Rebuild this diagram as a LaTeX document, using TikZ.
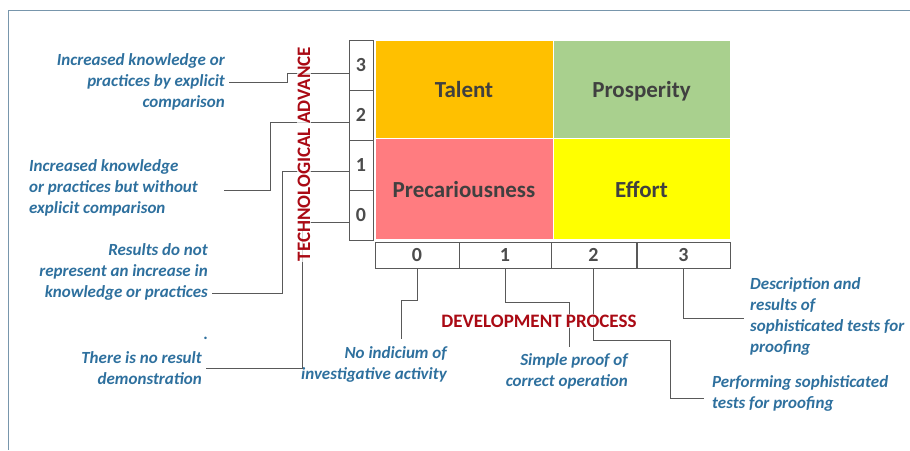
\documentclass[tikz,border=0pt]{standalone}
\usepackage{fontspec}
\setmainfont{Carlito}
\definecolor{txtblue}{RGB}{46,112,158}
\definecolor{axred}{RGB}{170,10,20}
\definecolor{talent}{RGB}{255,192,0}
\definecolor{prosp}{RGB}{169,208,142}
\definecolor{preca}{RGB}{255,124,128}
\definecolor{effort}{RGB}{255,255,0}
\definecolor{framec}{RGB}{120,150,172}
\tikzset{
  quad/.style ={rectangle, draw=white, line width=0.6pt, text=black!75, text height=17pt, text depth=0pt, font=\fontsize{23}{26}\selectfont\bfseries},
  sc/.style   ={rectangle, draw=black!65, fill=white, line width=0.8pt, text=black!70, inner sep=0pt, font=\fontsize{20}{22}\selectfont\bfseries},
  ttl/.style  ={text=axred, fill=white, fill opacity=0.75, text opacity=1, inner sep=1pt, font=\fontsize{19}{22}\selectfont\bfseries},
  lbl/.style  ={text=txtblue, inner sep=4pt, font=\fontsize{17}{21}\selectfont\bfseries\itshape},
  ld/.style   ={draw=black!65, line width=0.7pt},
  fr/.style   ={draw=framec, line width=1pt},
}

\begin{document}
\begin{tikzpicture}[x=1pt, y=-1pt]
\useasboundingbox (0,0) rectangle (910,450);
\draw[fr] (910,10) -- (8,10) -- (8,450);
%% ---------- the four quadrants ----------
\node[quad, fill=talent, minimum width=178pt, minimum height=98pt]  (tal) at (464,89)      {Talent};
\node[quad, fill=prosp,  minimum width=177pt, minimum height=98pt]  (pro) at (641.5,89)    {Prosperity};
\node[quad, fill=preca,  minimum width=178pt, minimum height=101pt] (pre) at (464,188.5)   {Precariousness};
\node[quad, fill=effort, minimum width=177pt, minimum height=101pt] (eff) at (641.5,188.5) {Effort};
%% ---------- scales ----------
\foreach \n in {0,...,3}
  \node[sc, minimum width=24pt, minimum height=50pt] (v\n) at (361,215-50*\n) {\n};
\node[sc, minimum width=84pt, minimum height=26pt] (h0) at (417,255)   {0};
\node[sc, minimum width=92pt, minimum height=26pt] (h1) at (505,255)   {1};
\node[sc, minimum width=85pt, minimum height=26pt] (h2) at (593.5,255) {2};
\node[sc, minimum width=93pt, minimum height=26pt] (h3) at (683.5,255) {3};
%% ---------- level descriptions, technological advance ----------
\node[lbl, anchor=east, align=right] (l3) at (229,82) {Increased knowledge or\\practices by explicit\\comparison};
\node[lbl, anchor=west, align=left]  (l2) at (25,188) {Increased knowledge\\or practices but without\\explicit comparison};
\node[lbl, anchor=east, align=right] (l1) at (212,272) {Results do not\\represent an increase in\\knowledge or practices};
\node[lbl, anchor=base] (dot) at (206,339) {.};
\node[lbl, anchor=east, align=right] (l0) at (206,368.5) {There is no result\\demonstration};
%% ---------- level descriptions, development process ----------
\node[lbl, anchor=east, align=right] (b0) at (451,364.5) {No indicium of\\investigative activity};
\node[lbl, anchor=east, align=right] (b1) at (632,371)   {Simple proof of\\correct operation};
\node[lbl, anchor=west, align=left]  (b2) at (708,393)   {Performing sophisticated\\tests for proofing};
\node[lbl, anchor=west, align=left]  (b3) at (746,316.5) {Description and\\results of\\sophisticated tests for\\proofing};
% free ends of the lower leaders
\coordinate (e0) at (401,339);
\coordinate (e1) at (569,347);
\coordinate (e2) at (704,398);
\coordinate (e3) at (744,318);
%% ---------- leaders ----------
\draw[ld] (l3.east) -| (287,73) -- ([yshift=-8pt]v3.west);
\draw[ld] ([xshift=22pt,yshift=-2pt]l2.east) -| (270,122) -- ([yshift=-7pt]v2.west);
\draw[ld] ([yshift=-21pt]l1.east) -| (282,171) -- ([yshift=-6pt]v1.west);
\draw[ld] (l0.east) -| (302,222) -- ([yshift=-7pt]v0.west);
\draw[ld] (h0.south) |- (401,300) -- (e0);
\draw[ld] (h1.south) |- (569,302) -- (e1);
\draw[ld] (h2.south) |- (670,340) |- (e2);
\draw[ld] (h3.south) |- (e3);
%% ---------- axis titles ----------
\node[ttl, rotate=90] (tech) at (304,154) {TECHNOLOGICAL ADVANCE};
\node[ttl] (dev) at (539,321) {DEVELOPMENT PROCESS};
\end{tikzpicture}
\end{document}
